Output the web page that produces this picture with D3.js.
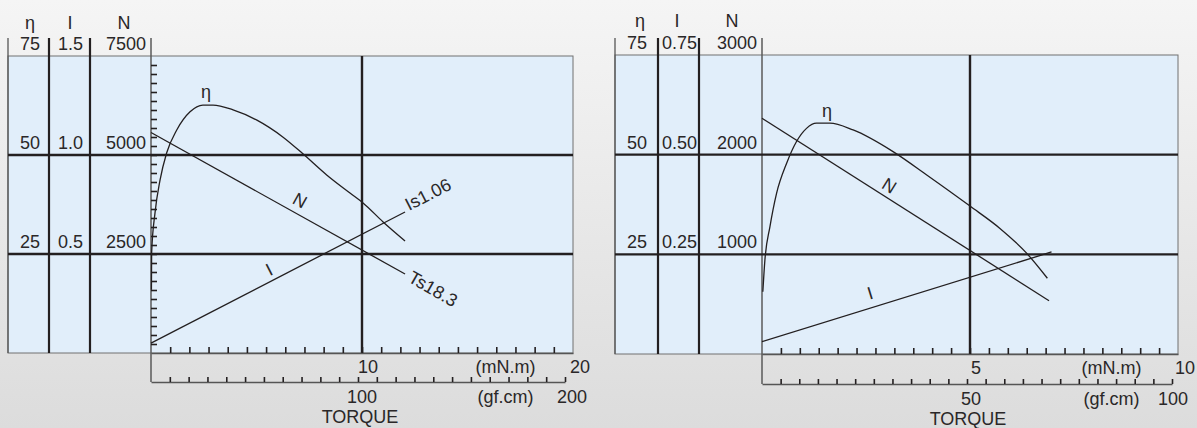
<!DOCTYPE html>
<html>
<head>
<meta charset="utf-8">
<script src="https://cdn.jsdelivr.net/npm/d3@7"></script>
<style>
  body { margin: 0; background: #e9e9e9; }
  svg text { font-family: "Liberation Sans", Arial, sans-serif; fill: #2a2728; }
</style>
</head>
<body>
<script>
var outerWidth = 1197;
var outerHeight = 428;

// left motor
var leftEffTorque = [0.02, 0.03, 0.19, 0.43, 0.74, 1.22, 1.85, 2.46, 2.94, 3.89, 5.02, 6.26, 7.2, 8.34, 9.43, 10.05, 11.0, 12.04];
var leftEff = [16, 25.3, 35.4, 43.7, 50.5, 56.3, 60.9, 62.6, 62.6, 61.4, 58.8, 54.5, 50.3, 44.9, 40.4, 37.9, 33.1, 28.3];
var leftLineTorque = [0, 12.04];
var leftSpeed = [5568, 1995];
var leftCurrent = [0.05, 0.712];
var leftEtaLevels = [25, 50, 75];
var leftILabels = ['0.5', '1.0', '1.5'];
var leftNLabels = ['2500', '5000', '7500'];

// right motor
var rightEffTorque = [0.02, 0.07, 0.19, 0.35, 0.59, 0.83, 1.07, 1.31, 1.63, 2.19, 3.16, 3.96, 5.0, 5.72, 6.36, 6.86];
var rightEff = [15.6, 23.6, 31.9, 40.3, 47.8, 53.3, 56.6, 57.9, 57.9, 56.2, 50.7, 44.9, 37.1, 31.5, 25.3, 19.0];
var rightLineTorque = [0, 6.9];
var rightSpeed = [2365, 535];
var rightCurrentTorque = [0, 6.96];
var rightCurrent = [0.031, 0.256];
var rightEtaLevels = [25, 50, 75];
var rightILabels = ['0.25', '0.50', '0.75'];
var rightNLabels = ['1000', '2000', '3000'];

var svg = d3.select('body').append('svg')
  .attr('width', outerWidth)
  .attr('height', outerHeight);

var grad = svg.append('defs').append('linearGradient')
  .attr('id', 'bg').attr('x1', 0).attr('y1', 0).attr('x2', 0).attr('y2', 1);
grad.append('stop').attr('offset', '0%').attr('stop-color', '#f5f5f5');
grad.append('stop').attr('offset', '100%').attr('stop-color', '#dcdcdc');

svg.append('rect')
  .attr('width', outerWidth).attr('height', outerHeight)
  .attr('fill', 'url(#bg)');

var ink = '#231f20';
var fs = '18px';

function drawChart(c){
  var g = svg.append('g');

  var x = d3.scaleLinear().domain([0, c.tMax]).range([c.axisX, c.right]);
  var xg = d3.scaleLinear().domain([0, c.gMax]).range([c.axisX, c.gEnd]);
  var yEta = d3.scaleLinear().domain([0, 75]).range([c.bottom, c.top]);
  var yI = d3.scaleLinear().domain([0, c.iMax]).range([c.bottom, c.top]);
  var yN = d3.scaleLinear().domain([0, c.nMax]).range([c.bottom, c.top]);

  g.append('rect')
    .attr('x', c.x0).attr('y', c.top)
    .attr('width', c.right - c.x0).attr('height', c.bottom - c.top)
    .attr('fill', '#e1eefa')
    .attr('stroke', '#707070')
    .attr('stroke-width', 1);

  // column lines running above the panel
  g.append('line')
    .attr('x1', c.x0).attr('x2', c.x0)
    .attr('y1', 38).attr('y2', c.bottom)
    .attr('stroke', '#555').attr('stroke-width', 1.3);

  c.dividers.forEach(function(d){
    g.append('line')
      .attr('x1', d).attr('x2', d)
      .attr('y1', 38).attr('y2', c.bottom)
      .attr('stroke', ink).attr('stroke-width', 2.2);
  });

  g.append('line')
    .attr('x1', c.axisX).attr('x2', c.axisX)
    .attr('y1', 38).attr('y2', c.lowerY)
    .attr('stroke', '#5a5a5a').attr('stroke-width', 1.5);

  // grid
  [25, 50].forEach(function(v){
    g.append('line')
      .attr('x1', c.x0).attr('x2', c.right)
      .attr('y1', yEta(v)).attr('y2', yEta(v))
      .attr('stroke', ink).attr('stroke-width', 2.4);
  });

  g.append('line')
    .attr('x1', x(c.tMax / 2)).attr('x2', x(c.tMax / 2))
    .attr('y1', c.top).attr('y2', c.bottom + 1)
    .attr('stroke', ink).attr('stroke-width', 2.4);

  // column headers
  var heads = ['η', 'I', 'N'];
  heads.forEach(function(h, i){
    g.append('text')
      .attr('x', c.headX[i]).attr('y', c.headY)
      .attr('text-anchor', 'middle')
      .style('font-size', fs)
      .text(h);
  });

  c.etaLevels.forEach(function(v, i){
    var yy = yEta(v) - 6;
    g.append('text').attr('x', c.colEnd[0]).attr('y', yy)
      .attr('text-anchor', 'end').style('font-size', fs).text(v);
    g.append('text').attr('x', c.colEnd[1]).attr('y', yy)
      .attr('text-anchor', 'end').style('font-size', fs).text(c.iLabels[i]);
    g.append('text').attr('x', c.colEnd[2]).attr('y', yy)
      .attr('text-anchor', 'end').style('font-size', fs).text(c.nLabels[i]);
  });

  // torque axes
  var upper = g.append('g')
    .attr('transform', 'translate(0,' + c.bottom + ')')
    .call(d3.axisTop(x)
      .tickValues(d3.range(1, 22).map(function(i){ return i * c.tMax / 22; }))
      .tickSize(6).tickSizeOuter(0).tickFormat(''));

  var lower = g.append('g')
    .attr('transform', 'translate(0,' + c.lowerY + ')')
    .call(d3.axisTop(xg)
      .tickValues(d3.range(1, 23).map(function(i){ return i * c.gMax / 22; }))
      .tickSize(5).tickSizeOuter(0).tickFormat(''));

  [upper, lower].forEach(function(a){
    a.select('.domain').attr('stroke', '#555').attr('stroke-width', 1.5);
    a.selectAll('.tick line').attr('stroke', ink).attr('stroke-width', 1.6);
  });

  if (c.yTicks){
    var ya = g.append('g')
      .attr('transform', 'translate(' + c.axisX + ',0)')
      .call(d3.axisRight(yN)
        .tickValues(d3.range(1, 33).map(function(i){ return i * c.nMax / 33; }))
        .tickSize(6).tickSizeOuter(0).tickFormat(''));
    ya.select('.domain').remove();
    ya.selectAll('.tick line').attr('stroke', ink).attr('stroke-width', 1.6);
  }

  function label(tx, ty, s, anchor){
    g.append('text')
      .attr('x', tx).attr('y', ty)
      .attr('text-anchor', anchor || 'middle')
      .style('font-size', fs)
      .text(s);
  }

  label(x(c.tMax / 2) + 6, c.bottom + 20, c.tMax / 2);
  label(x(c.tMax * 0.84), c.bottom + 20, '(mN.m)');
  label(x(c.tMax) + c.endDx, c.bottom + 20, c.tMax);
  label(xg(c.gMax / 2) + 4, c.lowerY + 21, c.gMax / 2);
  label(x(c.tMax * 0.84), c.lowerY + 21, '(gf.cm)');
  label(xg(c.gMax) + c.gEndDx, c.lowerY + 21, c.gMax);
  label(x(c.tMax / 2) - 2, c.lowerY + 41, 'TORQUE');

  // curves
  var effLine = d3.line()
    .x(function(d){ return x(d[0]); })
    .y(function(d){ return yEta(d[1]); })
    .curve(d3.curveMonotoneX);

  g.append('path')
    .datum(d3.zip(c.effTorque, c.eff))
    .attr('d', effLine)
    .attr('fill', 'none').attr('stroke', ink).attr('stroke-width', 1.3);

  g.append('path')
    .datum(d3.zip(c.lineTorque, c.speed))
    .attr('d', d3.line()
      .x(function(d){ return x(d[0]); })
      .y(function(d){ return yN(d[1]); }))
    .attr('fill', 'none').attr('stroke', ink).attr('stroke-width', 1.3);

  g.append('path')
    .datum(d3.zip(c.currentTorque, c.current))
    .attr('d', d3.line()
      .x(function(d){ return x(d[0]); })
      .y(function(d){ return yI(d[1]); }))
    .attr('fill', 'none').attr('stroke', ink).attr('stroke-width', 1.3);

  c.notes.forEach(function(n){
    g.append('text')
      .attr('transform', 'translate(' + n.x + ',' + n.y + ') rotate(' + n.r + ')')
      .attr('text-anchor', n.anchor || 'middle')
      .style('font-size', fs)
      .text(n.t);
  });
}

drawChart({
  x0: 8, dividers: [49, 90], axisX: 151, right: 573, gEnd: 565,
  top: 56, bottom: 353, lowerY: 382,
  tMax: 20, gMax: 200, iMax: 1.5, nMax: 7500, yTicks: true,
  endDx: 7, gEndDx: 7,
  headX: [30, 70, 124], headY: 29,
  colEnd: [40, 83, 146],
  etaLevels: leftEtaLevels, iLabels: leftILabels, nLabels: leftNLabels,
  effTorque: leftEffTorque, eff: leftEff,
  lineTorque: leftLineTorque, speed: leftSpeed,
  currentTorque: leftLineTorque, current: leftCurrent,
  notes: [
    {t: 'η', x: 206, y: 98, r: 0},
    {t: 'N', x: 297, y: 206, r: 29},
    {t: 'I', x: 272, y: 275, r: -27},
    {t: 'Is1.06', x: 409, y: 211, r: -27, anchor: 'start'},
    {t: 'Ts18.3', x: 407, y: 281, r: 30, anchor: 'start'}
  ]
});

drawChart({
  x0: 615, dividers: [658, 699], axisX: 762, right: 1178, gEnd: 1172,
  top: 55, bottom: 354, lowerY: 384,
  tMax: 10, gMax: 100, iMax: 0.75, nMax: 3000, yTicks: false,
  endDx: 7, gEndDx: 1,
  headX: [640, 677, 732], headY: 27,
  colEnd: [647, 697, 757],
  etaLevels: rightEtaLevels, iLabels: rightILabels, nLabels: rightNLabels,
  effTorque: rightEffTorque, eff: rightEff,
  lineTorque: rightLineTorque, speed: rightSpeed,
  currentTorque: rightCurrentTorque, current: rightCurrent,
  notes: [
    {t: 'η', x: 827, y: 117, r: 0},
    {t: 'N', x: 886, y: 191, r: 32},
    {t: 'I', x: 872, y: 299, r: -17}
  ]
});
</script>
</body>
</html>
